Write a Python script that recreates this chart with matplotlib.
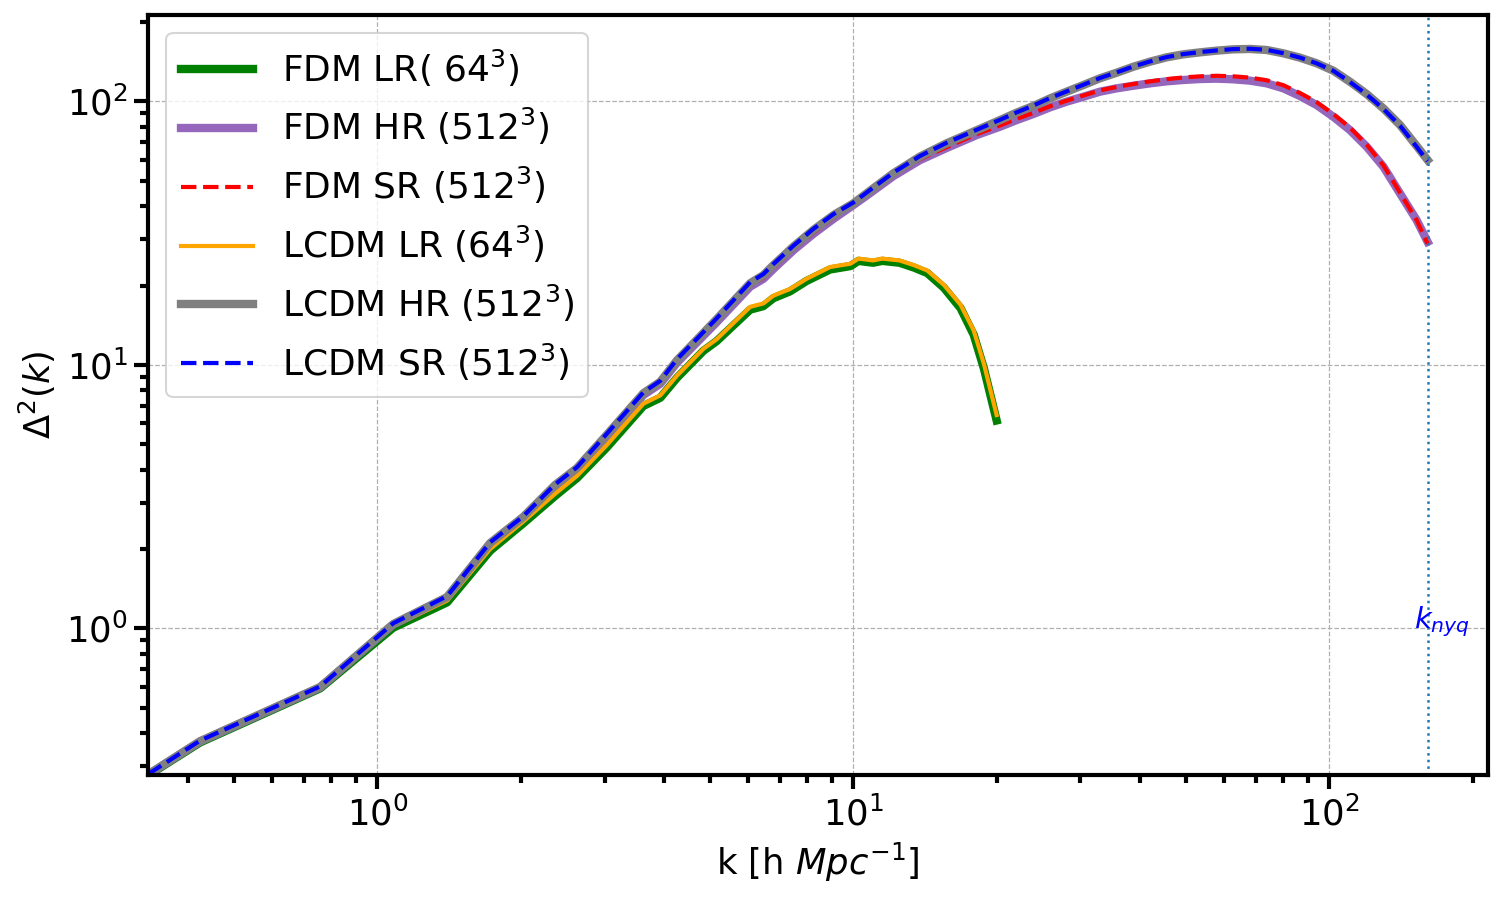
import matplotlib
matplotlib.use("Agg")
import matplotlib.pyplot as plt

# ---------------- data ----------------
k_hr = [0.330, 0.424, 0.758, 1.079, 1.401, 1.725, 2.023, 2.362, 2.627, 3.04, 3.62, 3.93,
        4.26, 4.76, 5.16, 6.07, 6.47, 6.79, 7.48, 8.24, 9.08, 10.0, 10.67, 12.13, 13.8,
        15.7, 18.2, 20.33, 22.04, 23.89, 25.90, 28.07, 30.43, 32.98, 35.75, 38.76, 42.01,
        45.54, 49.37, 53.51, 58.00, 62.87, 68.15, 73.87, 80.08, 86.80, 94.08, 101.97,
        110.5, 119.8, 129.9, 140.8, 152.6, 160.9]
lcdm_hr = [0.279, 0.373, 0.599, 1.038, 1.315, 2.107, 2.645, 3.50, 4.06, 5.45, 7.80, 8.63,
           10.4, 12.8, 14.9, 20.4, 21.9, 23.9, 28.1, 32.5, 37.0, 41.0, 44.8, 53.3, 61.7,
           69.3, 77.8, 84.9, 90.6, 96.0, 102.6, 108.8, 115.3, 122.3, 128.4, 135.3, 141.4,
           146.9, 150.8, 153.4, 155.7, 157.5, 158.0, 156.6, 152.1, 146.4, 139.4, 130.7,
           118.7, 106.6, 94.0, 81.3, 67.7, 59.9]
lcdm_sr = [0.280, 0.375, 0.602, 1.045, 1.325, 2.12, 2.66, 3.52, 4.09, 5.50, 7.86, 8.70,
           10.5, 12.9, 15.0, 20.6, 22.1, 24.1, 28.3, 32.8, 37.3, 41.3, 45.1, 53.6, 62.0,
           69.6, 78.1, 85.1, 90.8, 96.4, 102.9, 109.1, 115.6, 122.6, 128.8, 135.6, 141.7,
           147.2, 151.1, 153.8, 156.0, 157.8, 158.3, 156.8, 152.3, 146.5, 139.4, 130.5,
           118.4, 106.2, 93.6, 80.8, 67.2, 59.3]
fdm_hr = [0.279, 0.372, 0.597, 1.034, 1.308, 2.095, 2.63, 3.47, 4.02, 5.38, 7.68, 8.48,
          10.2, 12.5, 14.5, 19.8, 21.2, 23.1, 27.2, 31.4, 35.8, 40.4, 43.9, 52.0, 59.8,
          66.5, 74.6, 80.1, 84.9, 89.5, 94.9, 99.7, 104.1, 108.8, 112.0, 114.6, 117.0,
          119.1, 120.5, 121.5, 121.9, 121.2, 119.8, 117.0, 112.0, 104.7, 96.8, 87.4,
          77.8, 67.3, 56.5, 44.7, 35.4, 29.3]
fdm_sr = [0.280, 0.374, 0.600, 1.040, 1.318, 2.11, 2.645, 3.49, 4.05, 5.42, 7.74, 8.55,
          10.3, 12.6, 14.6, 20.0, 21.4, 23.3, 27.5, 31.7, 36.2, 40.8, 44.3, 52.4, 60.3,
          67.0, 75.2, 81.0, 85.8, 90.4, 95.8, 100.6, 105.2, 110.0, 113.4, 116.3, 119.0,
          121.4, 123.2, 124.4, 125.0, 124.4, 123.0, 120.2, 115.1, 107.5, 99.3, 89.5,
          79.5, 68.5, 57.2, 45.0, 35.4, 28.8]

k_lr = [0.330, 0.424, 0.758, 1.079, 1.401, 1.725, 2.023, 2.362, 2.627, 3.03, 3.62, 3.93,
        4.26, 4.84, 5.16, 6.07, 6.47, 6.79, 7.36, 7.97, 8.93, 9.86, 10.25, 11.0, 11.5,
        12.5, 13.4, 14.3, 15.5, 16.8, 17.9, 18.8, 20.0]
fdm_lr = [0.277, 0.369, 0.592, 1.005, 1.255, 1.97, 2.50, 3.18, 3.72, 4.85, 6.98, 7.50,
          8.93, 11.3, 12.3, 16.2, 16.7, 17.9, 19.0, 20.8, 23.0, 23.7, 24.8, 24.4, 24.8,
          24.4, 23.4, 22.3, 19.6, 16.4, 13.0, 9.7, 6.15]
lcdm_lr = [0.279, 0.373, 0.600, 1.02, 1.275, 2.00, 2.54, 3.24, 3.79, 4.95, 7.12, 7.66,
           9.10, 11.5, 12.5, 16.6, 17.1, 18.3, 19.4, 21.2, 23.5, 24.2, 25.3, 24.9, 25.3,
           24.9, 23.9, 22.8, 20.1, 16.9, 13.5, 10.1, 6.45]

k_nyq = 160.85

labels = [r"FDM LR( $64^3$)", r"FDM HR ($512^3$)", r"FDM SR ($512^3$)",
          r"LCDM LR ($64^3$)", r"LCDM HR ($512^3$)", r"LCDM SR ($512^3$)"]

# ---------------- figure ----------------
fig = plt.figure(figsize=(1502/150, 900/150), dpi=150)
ax = fig.add_axes([148.3/1502, 125/900, (1487.7-148.3)/1502, (775-15)/900])

ax.plot(k_lr, fdm_lr, color="green", lw=4, label=labels[0])
ax.plot(k_hr, fdm_hr, color="tab:purple", lw=4, label=labels[1])
ax.plot(k_hr, fdm_sr, color="red", lw=2, ls="--", label=labels[2])
ax.plot(k_lr, lcdm_lr, color="orange", lw=2, label=labels[3])
ax.plot(k_hr, lcdm_hr, color="gray", lw=4, label=labels[4])
ax.plot(k_hr, lcdm_sr, color="blue", lw=2, ls="--", label=labels[5])

ax.axvline(k_nyq, color="tab:blue", ls=":", lw=1.2)
ax.text(k_nyq - 10, 1.0, r"$k_{nyq}$", color="blue", fontsize=14)

ax.set_xscale("log")
ax.set_yscale("log")
ax.set_xlim(0.330, 215.2)
ax.set_ylim(0.2776, 212.6)

ax.grid(True, which="major", ls="--", lw=0.6, color="#b0b0b0")

for s in ax.spines.values():
    s.set_linewidth(2)
ax.tick_params(which="major", length=6.5, width=2, labelsize=17)
ax.tick_params(which="minor", length=4, width=2)

ax.set_xlabel(r"k [h $Mpc^{-1}$]", fontsize=17)
ax.set_ylabel(r"$\Delta^2(k)$", fontsize=17)

ax.legend(loc="upper left", fontsize=17.3, labelspacing=0.49)

fig.savefig("out.png", dpi=150)
